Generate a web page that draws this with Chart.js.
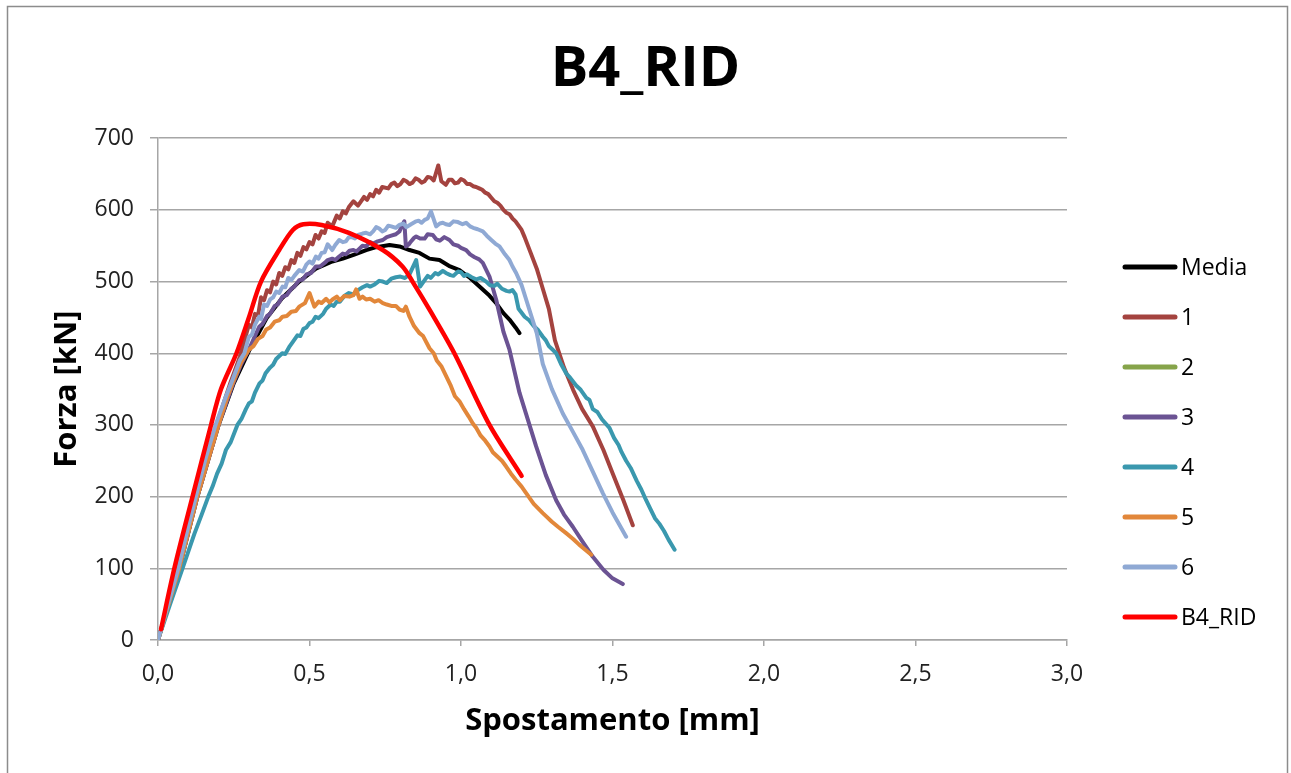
<!DOCTYPE html>
<html>
<head>
<meta charset="utf-8">
<title>B4_RID</title>
<script src="https://cdn.jsdelivr.net/npm/chart.js@4.4.0/dist/chart.umd.min.js"></script>
<style>
  html, body { margin: 0; padding: 0; background: #fff; }
  canvas { display: block; }
</style>
</head>
<body>
<canvas id="b4Chart" width="1291" height="773"></canvas>
<script>
// Spostamento [mm] / Forza [kN] pairs for each test
const media = [
    [0, 0], [0.035, 50], [0.07, 100], [0.10, 150], [0.13, 200], [0.165, 250], [0.20, 300],
    [0.25, 358], [0.30, 403], [0.36, 450], [0.41, 477], [0.466, 500], [0.521, 518], [0.575, 528],
    [0.61, 532], [0.65, 538], [0.687, 544], [0.72, 548], [0.764, 551], [0.797, 549], [0.83, 544],
    [0.863, 540], [0.896, 532], [0.929, 530], [0.96, 522], [0.995, 516], [1.03, 505], [1.061, 493],
    [1.09, 482], [1.116, 470], [1.14, 456], [1.16, 447], [1.18, 436], [1.193, 428]
];

const prova1 = [
    [0, 0], [0.03, 42], [0.06, 92], [0.09, 140], [0.12, 190], [0.15, 238], [0.18, 282], [0.21, 322],
    [0.24, 360], [0.27, 395], [0.30, 440], [0.31, 436], [0.32, 455], [0.33, 452], [0.34, 478],
    [0.35, 474], [0.36, 488], [0.37, 485], [0.38, 500], [0.39, 496], [0.40, 512], [0.41, 508],
    [0.42, 520], [0.43, 517], [0.44, 530], [0.45, 526], [0.46, 540], [0.47, 536], [0.48, 548],
    [0.49, 545], [0.50, 555], [0.51, 552], [0.52, 565], [0.53, 560], [0.54, 570], [0.55, 568],
    [0.56, 582], [0.575, 577], [0.59, 592], [0.60, 588], [0.61, 598], [0.62, 595], [0.63, 604],
    [0.645, 612], [0.66, 606], [0.67, 612], [0.68, 618], [0.69, 614], [0.70, 622], [0.71, 619],
    [0.72, 628], [0.73, 624], [0.74, 632], [0.76, 630], [0.77, 636], [0.78, 638], [0.79, 633],
    [0.80, 636], [0.81, 642], [0.82, 640], [0.83, 636], [0.84, 638], [0.85, 644], [0.86, 642],
    [0.87, 638], [0.88, 640], [0.89, 646], [0.90, 645], [0.91, 641], [0.915, 648], [0.925, 662],
    [0.935, 640], [0.95, 635], [0.96, 642], [0.97, 642], [0.98, 637], [0.99, 638], [1.0, 643],
    [1.01, 641], [1.02, 636], [1.03, 636], [1.04, 633], [1.05, 632], [1.06, 630], [1.07, 628],
    [1.08, 624], [1.09, 622], [1.10, 617], [1.11, 612], [1.12, 610], [1.13, 606], [1.14, 600],
    [1.15, 596], [1.16, 594], [1.17, 588], [1.18, 584], [1.19, 578], [1.20, 572], [1.21, 562],
    [1.23, 540], [1.25, 518], [1.27, 490], [1.29, 462], [1.31, 418], [1.34, 380], [1.37, 349],
    [1.40, 322], [1.435, 298], [1.47, 265], [1.50, 233], [1.535, 196], [1.567, 160]
];

// test 2 has no recorded curve
const prova2 = [];

const prova3 = [
    [0, 0], [0.035, 50], [0.07, 100], [0.10, 150], [0.13, 200], [0.165, 250], [0.20, 300],
    [0.225, 330], [0.25, 360], [0.275, 385], [0.30, 405], [0.32, 424], [0.334, 437], [0.345, 441],
    [0.36, 452], [0.37, 455], [0.385, 466], [0.395, 468], [0.411, 479], [0.425, 481], [0.44, 490],
    [0.45, 493], [0.466, 502], [0.478, 503], [0.49, 510], [0.505, 512], [0.521, 521], [0.535, 521],
    [0.55, 526], [0.56, 530], [0.575, 532], [0.585, 530], [0.598, 535], [0.61, 539], [0.62, 538],
    [0.632, 543], [0.645, 544], [0.655, 542], [0.665, 546], [0.675, 550], [0.687, 549], [0.70, 555],
    [0.71, 553], [0.725, 556], [0.742, 558], [0.755, 562], [0.77, 564], [0.785, 566], [0.797, 570],
    [0.805, 578], [0.813, 584], [0.818, 549], [0.828, 552], [0.835, 556], [0.845, 561], [0.852, 563],
    [0.865, 560], [0.88, 560], [0.89, 566], [0.907, 565], [0.918, 559], [0.93, 557], [0.945, 562],
    [0.962, 558], [0.975, 552], [0.99, 550], [1.0, 547], [1.017, 544], [1.03, 538], [1.045, 534],
    [1.06, 531], [1.072, 526], [1.094, 507], [1.116, 475], [1.14, 430], [1.16, 405], [1.193, 345],
    [1.215, 315], [1.248, 270], [1.28, 230], [1.314, 195], [1.34, 175], [1.369, 158], [1.40, 138],
    [1.435, 116], [1.47, 98], [1.50, 86], [1.534, 78]
];

const prova4 = [
    [0, 0], [0.04, 50], [0.081, 100], [0.12, 148], [0.145, 176], [0.166, 200], [0.18, 214],
    [0.195, 232], [0.21, 246], [0.224, 265], [0.24, 276], [0.262, 300], [0.275, 308], [0.29, 322],
    [0.30, 330], [0.31, 333], [0.32, 345], [0.335, 358], [0.345, 362], [0.355, 372], [0.37, 380],
    [0.38, 384], [0.39, 392], [0.41, 400], [0.42, 399], [0.435, 410], [0.445, 416], [0.46, 425],
    [0.47, 424], [0.48, 434], [0.49, 436], [0.50, 442], [0.51, 444], [0.52, 451], [0.53, 449],
    [0.545, 455], [0.555, 462], [0.57, 468], [0.58, 466], [0.59, 472], [0.60, 472], [0.615, 480],
    [0.63, 484], [0.645, 482], [0.66, 488], [0.675, 492], [0.69, 495], [0.70, 493], [0.715, 496],
    [0.73, 501], [0.742, 500], [0.755, 498], [0.77, 504], [0.785, 506], [0.80, 507], [0.815, 505],
    [0.83, 510], [0.852, 530], [0.865, 493], [0.88, 502], [0.89, 508], [0.90, 505], [0.915, 512],
    [0.925, 510], [0.94, 515], [0.95, 512], [0.965, 509], [0.975, 508], [0.99, 514], [1.0, 513],
    [1.01, 508], [1.02, 510], [1.035, 506], [1.05, 503], [1.065, 505], [1.083, 500], [1.095, 495],
    [1.11, 494], [1.12, 497], [1.135, 490], [1.15, 487], [1.16, 486], [1.17, 488], [1.18, 482],
    [1.19, 462], [1.21, 451], [1.225, 446], [1.24, 438], [1.255, 432], [1.27, 423], [1.28, 418],
    [1.29, 410], [1.30, 406], [1.314, 400], [1.33, 385], [1.347, 372], [1.36, 366], [1.38, 355],
    [1.395, 349], [1.413, 338], [1.424, 335], [1.435, 322], [1.45, 318], [1.465, 308], [1.49, 296],
    [1.505, 282], [1.52, 272], [1.53, 262], [1.545, 250], [1.56, 240], [1.58, 222], [1.595, 210],
    [1.611, 195], [1.625, 183], [1.64, 170], [1.655, 162], [1.67, 152], [1.685, 140], [1.705, 126]
];

const prova5 = [
    [0, 0], [0.035, 50], [0.07, 100], [0.10, 150], [0.13, 200], [0.165, 250], [0.20, 300],
    [0.23, 340], [0.25, 362], [0.275, 388], [0.30, 405], [0.315, 410], [0.33, 420], [0.345, 424],
    [0.357, 433], [0.37, 436], [0.385, 444], [0.40, 446], [0.411, 451], [0.425, 452], [0.44, 458],
    [0.455, 459], [0.466, 465], [0.485, 470], [0.50, 484], [0.516, 465], [0.53, 472], [0.54, 470],
    [0.555, 476], [0.566, 471], [0.576, 475], [0.59, 479], [0.60, 474], [0.615, 480], [0.632, 479],
    [0.645, 481], [0.654, 489], [0.665, 476], [0.675, 479], [0.687, 475], [0.70, 476], [0.715, 472],
    [0.728, 474], [0.742, 470], [0.755, 468], [0.77, 466], [0.785, 466], [0.797, 461], [0.81, 459],
    [0.818, 465], [0.83, 451], [0.845, 438], [0.863, 428], [0.875, 424], [0.896, 407], [0.91, 400],
    [0.92, 390], [0.935, 382], [0.951, 368], [0.965, 356], [0.98, 340], [0.995, 333], [1.01, 322],
    [1.025, 312], [1.039, 302], [1.05, 296], [1.065, 285], [1.08, 278], [1.094, 270], [1.105, 262],
    [1.12, 256], [1.135, 250], [1.149, 242], [1.165, 232], [1.18, 224], [1.20, 214], [1.215, 205],
    [1.24, 190], [1.27, 177], [1.30, 165], [1.32, 158], [1.347, 149], [1.37, 141], [1.39, 133],
    [1.41, 126], [1.43, 119]
];

const prova6 = [
    [0, 0], [0.03, 45], [0.067, 100], [0.095, 150], [0.125, 200], [0.155, 250], [0.19, 300],
    [0.22, 335], [0.246, 363], [0.27, 390], [0.285, 400], [0.30, 423], [0.31, 426], [0.32, 440],
    [0.334, 451], [0.34, 448], [0.35, 468], [0.36, 466], [0.37, 475], [0.38, 478], [0.39, 486],
    [0.40, 484], [0.411, 493], [0.42, 492], [0.43, 505], [0.44, 502], [0.45, 508], [0.466, 516],
    [0.478, 514], [0.49, 524], [0.50, 528], [0.51, 525], [0.521, 535], [0.53, 532], [0.54, 540],
    [0.55, 541], [0.56, 552], [0.575, 544], [0.585, 551], [0.598, 558], [0.61, 555], [0.62, 556],
    [0.63, 562], [0.64, 562], [0.65, 560], [0.66, 565], [0.675, 567], [0.687, 568], [0.70, 566],
    [0.71, 570], [0.72, 576], [0.73, 574], [0.74, 570], [0.75, 572], [0.76, 578], [0.77, 577],
    [0.785, 575], [0.797, 579], [0.81, 581], [0.82, 576], [0.835, 580], [0.852, 584], [0.86, 585],
    [0.87, 582], [0.88, 586], [0.89, 588], [0.901, 598], [0.918, 577], [0.93, 581], [0.94, 582],
    [0.95, 580], [0.962, 579], [0.975, 584], [0.99, 583], [1.005, 580], [1.017, 582], [1.03, 577],
    [1.04, 575], [1.055, 573], [1.072, 570], [1.085, 564], [1.10, 558], [1.113, 553], [1.127, 549],
    [1.145, 538], [1.16, 530], [1.17, 521], [1.182, 512], [1.20, 495], [1.215, 475], [1.25, 428],
    [1.27, 385], [1.30, 350], [1.336, 316], [1.37, 290], [1.402, 265], [1.435, 235], [1.468, 205],
    [1.50, 178], [1.545, 144]
];

// idealised curve
const b4Rid = [
    [0.01, 15], [0.054, 100], [0.114, 200], [0.175, 300], [0.208, 350], [0.259, 400], [0.30, 450],
    [0.34, 500], [0.40, 544], [0.445, 572], [0.48, 580], [0.54, 579], [0.63, 568], [0.742, 544],
    [0.807, 521], [0.84, 500], [0.90, 458], [0.978, 400], [1.094, 300], [1.2, 229]
];

const seriesNames = ['Media', '1', '2', '3', '4', '5', '6', 'B4_RID'];
const seriesData = [media, prova1, prova2, prova3, prova4, prova5, prova6, b4Rid];
const seriesColors = ['#000000', '#A4433F', '#86A44A', '#6B5393', '#3A98AE', '#E2873A', '#8FA9D4', '#FF0000'];

const xTicks = [0, 0.5, 1, 1.5, 2, 2.5, 3];
const yTicks = [0, 100, 200, 300, 400, 500, 600, 700];

const FONT = '"Open Sans", "Noto Sans", sans-serif';
const GRID = '#A6A6A6';

const datasets = seriesNames.map((name, i) => ({
    label: name,
    data: seriesData[i].map(p => ({ x: p[0], y: p[1] })),
    borderColor: seriesColors[i],
    backgroundColor: seriesColors[i],
    borderWidth: name === 'B4_RID' ? 4.5 : 4,
    showLine: true,
    pointRadius: 0,
    tension: name === 'B4_RID' ? 0.3 : 0,
    borderJoinStyle: 'round',
    borderCapStyle: 'round',
    // later series sit on top, like the original workbook
    order: seriesNames.length - 1 - i
}));

// legend at the right, one line sample per series
const sideLegend = {
    id: 'sideLegend',
    afterDraw(chart) {
        const ctx = chart.ctx;
        ctx.save();
        chart.data.datasets.forEach((ds, i) => {
            const y = 267 + i * 50;
            ctx.strokeStyle = ds.borderColor;
            ctx.lineWidth = 5;
            ctx.lineCap = 'round';
            ctx.beginPath();
            ctx.moveTo(1125, y);
            ctx.lineTo(1175, y);
            ctx.stroke();
            ctx.fillStyle = '#000';
            ctx.font = '23px ' + FONT;
            ctx.textBaseline = 'middle';
            ctx.fillText(ds.label, 1181, y + 1);
        });
        ctx.restore();
    }
};

// grey frame around the whole chart
const frame = {
    id: 'frame',
    afterDraw(chart) {
        const ctx = chart.ctx;
        ctx.save();
        ctx.strokeStyle = '#8C8C8C';
        ctx.lineWidth = 1.5;
        ctx.strokeRect(7.5, 6.5, 1280, 775);
        ctx.restore();
    }
};

new Chart(document.getElementById('b4Chart'), {
    type: 'scatter',
    data: { datasets },
    plugins: [sideLegend, frame],
    options: {
        responsive: false,
        animation: false,
        layout: { padding: 0 },
        plugins: {
            legend: { display: false },
            tooltip: { enabled: false },
            title: {
                display: true,
                text: 'B4_RID',
                color: '#000',
                font: { family: FONT, size: 56, weight: 'bold' },
                padding: { top: 36, bottom: 35 }
            }
        },
        scales: {
            x: {
                type: 'linear',
                min: 0,
                max: 3,
                afterFit(scale) { scale.height = 133; },
                afterBuildTicks(scale) { scale.ticks = xTicks.map(v => ({ value: v })); },
                ticks: {
                    color: '#222',
                    font: { family: FONT, size: 23 },
                    padding: 15,
                    maxRotation: 0,
                    callback: v => v.toFixed(1).replace('.', ',')
                },
                grid: { drawOnChartArea: false, color: GRID, lineWidth: 1.5, tickLength: 6 },
                border: { color: GRID, width: 1.5 },
                title: {
                    display: true,
                    text: 'Spostamento [mm]',
                    color: '#000',
                    font: { family: FONT, size: 31, weight: 'bold' },
                    padding: { top: 0, bottom: 33 }
                }
            },
            y: {
                type: 'linear',
                min: 0,
                max: 700,
                afterFit(scale) { scale.width = 158; },
                afterBuildTicks(scale) { scale.ticks = yTicks.map(v => ({ value: v })); },
                ticks: {
                    color: '#222',
                    font: { family: FONT, size: 23 },
                    padding: 16
                },
                grid: { color: GRID, lineWidth: 1.5, tickLength: 8 },
                border: { color: GRID, width: 1.5 },
                title: {
                    display: true,
                    text: 'Forza [kN]',
                    color: '#000',
                    font: { family: FONT, size: 31, weight: 'bold' },
                    padding: { top: 49, bottom: 0 }
                }
            },
            // empty right-hand strip that holds the legend, so the title stays centred on the page
            legendSpace: {
                type: 'linear',
                position: 'right',
                afterFit(scale) { scale.width = 224; },
                ticks: { display: false },
                grid: { display: false },
                border: { display: false }
            }
        }
    }
});
</script>
</body>
</html>
